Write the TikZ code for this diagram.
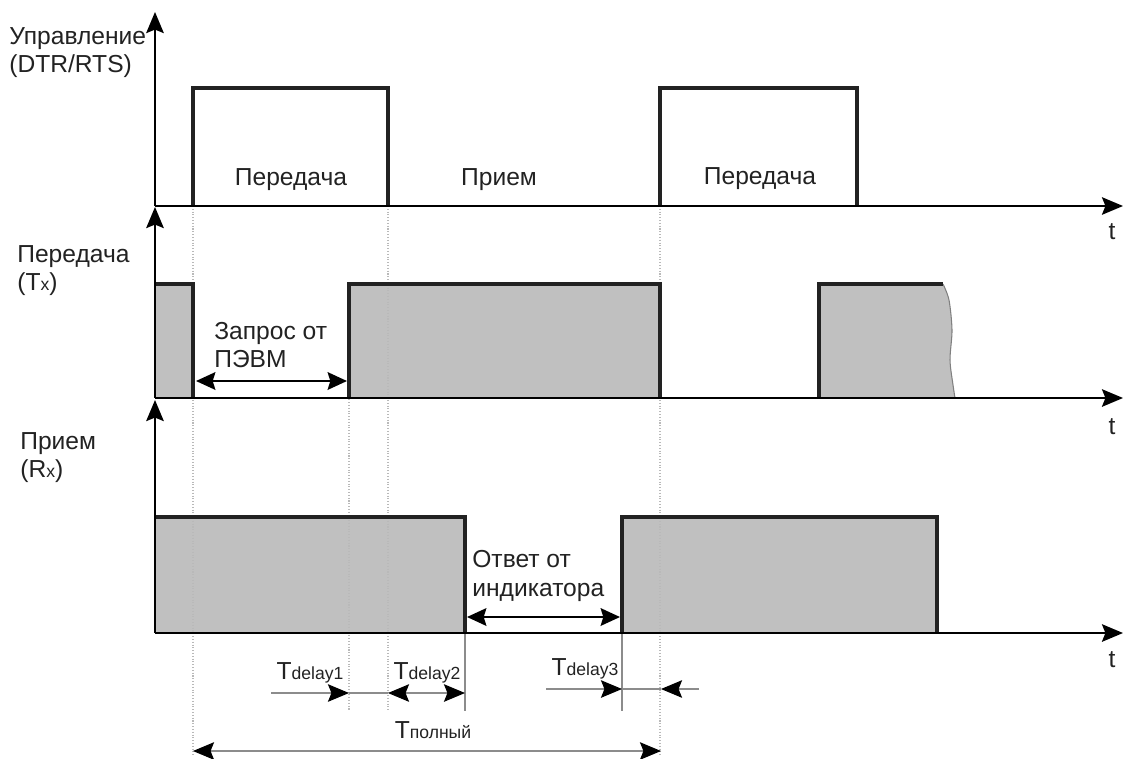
\documentclass[tikz,border=0pt]{standalone}
\usepackage{fontspec}
\setmainfont{Liberation Sans}
\usetikzlibrary{arrows.meta}
\definecolor{sigfill}{HTML}{C0C0C0}
\definecolor{dimgray}{HTML}{8C8C8C}
\definecolor{inkgray}{HTML}{222222}
\newcommand{\idx}[1]{{\fontsize{10}{12}\selectfont #1}}

\begin{document}
\begin{tikzpicture}[x=0.02cm, y=-0.02cm, font=\fontsize{14}{16}\selectfont, text=inkgray,
	axis/.style={line width=1.1pt, -{Stealth[length=12pt,width=10pt,inset=2pt]}},
	pulse/.style={line width=2.8pt, line join=miter, inkgray},
	guide/.style={gray!55, densely dotted, line width=0.6pt},
	dimline/.style={dimgray, line width=0.6pt},
	tipend/.style={-{Stealth[length=12pt,width=10pt,inset=2pt,black]}},
	tipboth/.style={{Stealth[length=12pt,width=10pt,inset=2pt,black]}-{Stealth[length=12pt,width=10pt,inset=2pt,black]}},
	span/.style={line width=1.3pt, {Stealth[length=11pt,width=10pt,inset=1.5pt]}-{Stealth[length=11pt,width=10pt,inset=1.5pt]}},
	lbl/.style={inner sep=0pt, align=left}]
	\useasboundingbox (0,0) rectangle (1125,758);
	%		\draw [thin, help lines, step=50] (0,0) grid (1125,758);
	%%% Riempimenti
	\fill[sigfill] (155,284) rectangle (193,398);
	\fill[sigfill] (349,284) rectangle (660,398);
	\fill[sigfill] (819,398) -- (819,284) -- plot[smooth] coordinates {(943,284) (949,300) (952,330) (950,360) (953,385) (955,398)} -- cycle;
	\draw[gray, line width=0.6pt] plot[smooth] coordinates {(943,284) (949,300) (952,330) (950,360) (953,385) (955,398)};
	\fill[sigfill] (155,517) rectangle (465,633);
	\fill[sigfill] (622,517) rectangle (937,633);
	%%% Linee guida
	\draw[guide] (193,206) -- (193,755);
	\draw[guide] (349,284) -- (349,711);
	\draw[guide] (388,206) -- (388,711);
	\draw[guide] (660,206) -- (660,755);
	\draw[dimline] (465,633) -- (465,711);
	\draw[dimline] (622,633) -- (622,711);
	%%% Impulsi
	\draw[pulse] (193,206) -- (193,88) -- (388,88) -- (388,206);
	\draw[pulse] (660,206) -- (660,88) -- (857,88) -- (857,206);
	\draw[pulse] (155,284) -- (193,284) -- (193,398);
	\draw[pulse] (349,398) -- (349,284) -- (660,284) -- (660,398);
	\draw[pulse] (819,398) -- (819,284) -- (943,284);
	\draw[pulse] (155,517) -- (465,517) -- (465,633);
	\draw[pulse] (622,633) -- (622,517) -- (937,517) -- (937,633);
	%%% Assi
	\draw[axis] (155,206) -- (155,12);
	\draw[axis] (155,206) -- (1123,206);
	\draw[axis] (155,398) -- (155,207);
	\draw[axis] (155,398) -- (1123,398);
	\draw[axis] (155,633) -- (155,400);
	\draw[axis] (155,633) -- (1123,633);
	\node (t1) at (1112,232) {t};
	\node (t2) at (1112,427) {t};
	\node (t3) at (1112,660) {t};
	%%% Etichette
	\node[lbl, anchor=west] (ctrl) at (9,53) {Управление\\(DTR/RTS)};
	\node[lbl, anchor=west] (txlbl) at (17,271) {Передача\\(T\idx{x})};
	\node[lbl, anchor=west] (rxlbl) at (20,458) {Прием\\(R\idx{x})};
	\node (send1) at (291,180) {Передача};
	\node (recv) at (499,180) {Прием};
	\node (send2) at (760,179) {Передача};
	%%% Intervalli
	\node[lbl, anchor=west] (req) at (214,345) {Запрос от\\ПЭВМ};
	\draw[span] (196,381) -- (347,381);
	\node[lbl, anchor=west] (ans) at (472,576) {Ответ от\\индикатора};
	\draw[span] (467,617) -- (620,617);
	%%% Ritardi
	\node (dl1) at (310,673) {T\idx{delay1}};
	\node (dl2) at (427,673) {T\idx{delay2}};
	\node (dl3) at (585,669) {T\idx{delay3}};
	\draw[dimline, tipend] (271,693) -- (349,693);
	\draw[dimline] (349,693) -- (388,693);
	\draw[dimline, tipboth] (388,693) -- (465,693);
	\draw[dimline, tipend] (546,689) -- (622,689);
	\draw[dimline] (622,689) -- (661,689);
	\draw[dimline, tipend] (699,689) -- (661,689);
	\node (tfull) at (433,730) {T\idx{полный}};
	\draw[dimline, tipboth] (193,751) -- (661,751);
\end{tikzpicture}
\end{document}
